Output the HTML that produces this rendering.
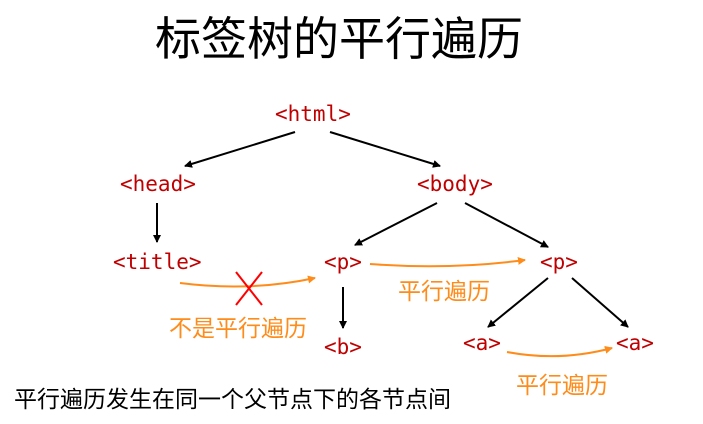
<!DOCTYPE html>
<html><head><meta charset="utf-8"><style>
body{margin:0;width:703px;height:424px;background:#fff;overflow:hidden;position:relative;font-family:"Liberation Sans","Noto Sans CJK SC",sans-serif}
.t{position:absolute;white-space:nowrap;line-height:1}
.c{font-family:"DejaVu Sans Mono","Liberation Mono",monospace;color:#c00000;font-size:21px}
.o{color:#ff8c1a;font-size:23px}
</style></head><body>
<div class="t" style="left:155px;top:16px;font-size:46px;color:#000">标签树的平行遍历</div>
<div class="t c" style="left:275px;top:104px">&lt;html&gt;</div>
<div class="t c" style="left:120px;top:174px">&lt;head&gt;</div>
<div class="t c" style="left:417px;top:174px">&lt;body&gt;</div>
<div class="t c" style="left:113px;top:252px">&lt;title&gt;</div>
<div class="t c" style="left:324px;top:252px">&lt;p&gt;</div>
<div class="t c" style="left:540px;top:252px">&lt;p&gt;</div>
<div class="t c" style="left:324px;top:337px">&lt;b&gt;</div>
<div class="t c" style="left:463px;top:333px">&lt;a&gt;</div>
<div class="t c" style="left:616px;top:333px">&lt;a&gt;</div>
<div class="t o" style="left:398px;top:280px">平行遍历</div>
<div class="t o" style="left:169px;top:317px">不是平行遍历</div>
<div class="t o" style="left:516px;top:374px">平行遍历</div>
<div class="t" style="left:14px;top:388px;font-size:23px;color:#000">平行遍历发生在同一个父节点下的各节点间</div>
<svg width="703" height="424" style="position:absolute;left:0;top:0">
<defs>
<marker id="k" markerWidth="8" markerHeight="8" refX="7" refY="4" orient="auto" markerUnits="userSpaceOnUse"><path d="M0,0L8,4L0,8z" fill="#000"/></marker>
<marker id="r" markerWidth="8" markerHeight="8" refX="7" refY="4" orient="auto" markerUnits="userSpaceOnUse"><path d="M0,0L8,4L0,8z" fill="#ff8c1a"/></marker>
</defs>
<g stroke="#000" stroke-width="2" fill="none" marker-end="url(#k)">
<line x1="295" y1="132" x2="185" y2="166"/>
<line x1="330" y1="132" x2="440" y2="166"/>
<line x1="157" y1="203" x2="157" y2="242"/>
<line x1="437" y1="203" x2="355" y2="245"/>
<line x1="465" y1="203" x2="548" y2="247"/>
<line x1="343" y1="287" x2="343" y2="328"/>
<line x1="548" y1="278" x2="488" y2="327"/>
<line x1="572" y1="278" x2="628" y2="327"/>
</g>
<g stroke="#ff8c1a" stroke-width="2" fill="none" marker-end="url(#r)">
<path d="M180,283 Q250,292 315,278"/>
<path d="M370,264 Q450,270 525,260"/>
<path d="M507,352 Q560,362 612,348"/>
</g>
<g stroke="#ff0000" stroke-width="2"><line x1="236" y1="272" x2="262" y2="305"/><line x1="262" y1="272" x2="236" y2="305"/></g>
</svg>
</body></html>
